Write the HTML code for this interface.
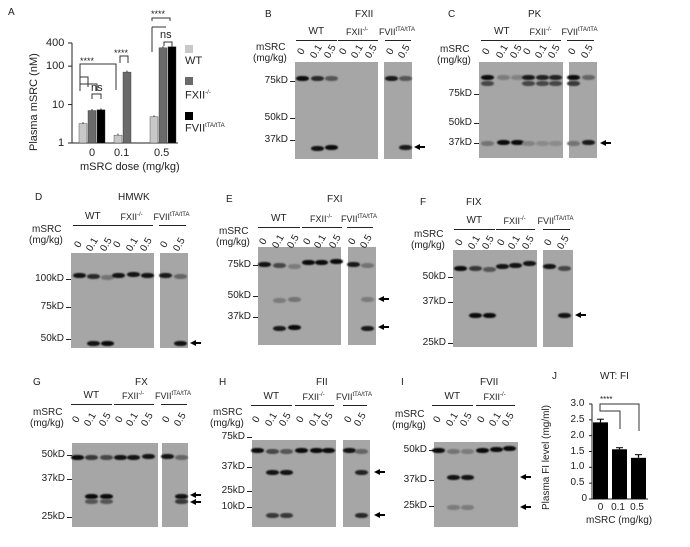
<!DOCTYPE html>
<html><head><meta charset="utf-8">
<style>
body{margin:0;background:#fff;}
#root{position:relative;width:690px;height:547px;overflow:hidden;font-family:"Liberation Sans",Arial,sans-serif;color:#222;}
.t{position:absolute;white-space:nowrap;font-size:10px;line-height:1;}
.gel{position:absolute;background:#a6a6a6;}
.band{position:absolute;border-radius:45%;filter:blur(0.7px);}
.ln{position:absolute;background:#222;}
.arr{position:absolute;width:11px;height:7px;}
.arr .hd{position:absolute;left:0;top:0;width:0;height:0;border-top:3.5px solid transparent;border-bottom:3.5px solid transparent;border-right:6px solid #000;}
.arr .st{position:absolute;left:5px;top:2.5px;width:6px;height:2px;background:#000;}
sup{font-size:6px;}
</style></head>
<body><div id="root">
<svg id="svgA" width="690" height="547" style="position:absolute;left:0;top:0"></svg>
</div>
<script>
// ---------- Panel A data ----------
const aDoses = ["0","0.1","0.5"];
const aWT = [3.2, 1.6, 4.8];
const aFXII = [7.0, 70, 300];
const aFVII = [7.3, null, 320];
const aTicks = [1, 10, 100, 400];
// ---------- Panel J data ----------
const jDoses = ["0","0.1","0.5"];
const jValues = [2.42, 1.57, 1.30];
const jErr = [0.1, 0.05, 0.1];
const jTicks = ["0","0.5","1.0","1.5","2.0","2.5","3.0"];

const root=document.getElementById('root');
const svg=document.getElementById('svgA');
const NS="http://www.w3.org/2000/svg";
function T(x,y,html,size,name,rot){const d=document.createElement('div');d.className='t';d.style.left=x+'px';d.style.top=y+'px';if(size)d.style.fontSize=size+'px';d.innerHTML=html;if(rot){d.style.transform='rotate('+rot+'deg)';d.style.transformOrigin='left bottom';}


root.appendChild(d);return d;}
function S(tag,attrs,name){const e=document.createElementNS(NS,tag);for(const k in attrs)e.setAttribute(k,attrs[k]);


svg.appendChild(e);return e;}

// ---------- Panel A ----------
(function(){
 const x0=72,yTop=43,yBot=143,maxLog=Math.log10(400);
 const yS=v=>yBot-(Math.log10(v)/maxLog)*(yBot-yTop);
 const groupX=[92,123,163];
 T(8,8,"A",10,"panel-a-label");
 S('line',{x1:x0,y1:yTop,x2:x0,y2:yBot,stroke:'#222','stroke-width':1},'y-axis');
 S('line',{x1:x0,y1:yBot,x2:178,y2:yBot,stroke:'#222','stroke-width':1},'x-axis');
 aTicks.forEach(v=>{const y=yS(v);S('line',{x1:x0-4,y1:y,x2:x0,y2:y,stroke:'#222'},'y-tick');T(x0-8-String(v).length*6,y-5,String(v),11,'y-tick-label');});
 const series=[[aWT,'#c8c8c8','wt'],[aFXII,'#6a6a6a','fxii'],[aFVII,'#000','fvii']];
 aDoses.forEach((d,i)=>{
  series.forEach((s,j)=>{const v=s[0][i];if(v==null)return;
   let bx=groupX[i]-13+j*9; if(i==1) bx=groupX[i]-9+j*9;
   const y=yS(v);
   S('rect',{x:bx,y:y,width:8,height:yBot-y,fill:s[1],stroke:'#333','stroke-width':0.4},'bar-'+s[2]+'-'+d);
   S('line',{x1:bx+4,y1:y-1.5,x2:bx+4,y2:y,stroke:'#333'},'error-bar');
  });
  T(groupX[i]-d.length*3,148,d,11,'x-tick-label');
 });
 T(80,162,"mSRC dose (mg/kg)",11,"x-axis-title");
 T(40,140,"Plasma mSRC (nM)",11,"y-axis-title",-90);
 const br=(x1,x2,y,h,name)=>S('path',{d:`M${x1},${y+h} V${y} H${x2} V${y+h}`,fill:'none',stroke:'#333','stroke-width':1},name);
 br(80,116,64,26,'bracket');br(80,88,77,10,'bracket');br(80,97,84,7,'bracket');br(92,101,94,5,'bracket');
 br(120,128,56,7,'bracket');br(152,170,18,3,'bracket');br(152,152,27,25,'bracket');S('line',{x1:152,y1:27,x2:166,y2:27,stroke:'#333'},'bracket');
 br(164,172,42,4,'bracket');
 T(80,57,"****",9,"sig-label");T(114,49,"****",9,"sig-label");T(151,10,"****",9,"sig-label");
 T(91,83,"ns",11,"sig-label");T(160,30,"ns",11,"sig-label");
 const leg=[['#c8c8c8','WT',45,56],['#6a6a6a','FXII<sup>-/-</sup>',77,90],['#000','FVII<sup>tTA/tTA</sup>',112,123]];
 leg.forEach(l=>{S('rect',{x:185,y:l[2],width:8,height:8,fill:l[0]},'legend-swatch');T(185,l[3],l[1],11,'legend-entry');});
})();

// ---------- Panel J ----------
(function(){
 const x0=592,yTop=404,yBot=499,max=3.0;
 const yS=v=>yBot-v/max*(yBot-yTop);
 T(552,372,"J",10,"panel-j-label");T(600,372,"WT: FI",10,"chart-title");
 S('line',{x1:x0,y1:yTop,x2:x0,y2:yBot,stroke:'#222'},'y-axis');
 S('line',{x1:x0,y1:yBot,x2:648,y2:yBot,stroke:'#222'},'x-axis');
 jTicks.forEach(t=>{const y=yS(parseFloat(t));S('line',{x1:x0-3,y1:y,x2:x0,y2:y,stroke:'#222'},'y-tick');T(x0-5-t.length*5.5,y-5,t,10,'y-tick-label');});
 const bx=[593,612,631];
 jDoses.forEach((d,i)=>{const y=yS(jValues[i]);
  S('rect',{x:bx[i],y:y,width:15,height:yBot-y,fill:'#000'},'bar-'+d);
  S('line',{x1:bx[i]+7.5,y1:yS(jValues[i]+jErr[i]),x2:bx[i]+7.5,y2:y,stroke:'#000','stroke-width':1.2},'error-bar');
  S('line',{x1:bx[i]+4,y1:yS(jValues[i]+jErr[i]),x2:bx[i]+11,y2:yS(jValues[i]+jErr[i]),stroke:'#000'},'error-cap');
  T(bx[i]+7.5-d.length*2.8,503,d,10,'x-tick-label');});
 S('path',{d:'M600,410 V404 H639 V431',fill:'none',stroke:'#333'},'bracket');
 S('path',{d:'M600,410 V411 H620 V429',fill:'none',stroke:'#333'},'bracket');
 T(600,396,"****",8,"sig-label");
 T(552,500,"Plasma FI level (mg/ml)",10,"y-axis-title",-90);
 T(586,516,"mSRC (mg/kg)",10,"x-axis-title");
})();

// ---------- Blots ----------
const blots=[
 {id:'b',L:'B',Lx:265,title:'FXII',tx:355,ty:10,ly:40,lab:52,ms:48,top:62,bot:159,g1:[295,378],g2:[384,412],lanes:[302,317,331,344,358,372,391,405],
  ticks:[['75kD',81],['50kD',118],['37kD',140]],
  bands:[[0,78,1],[1,78,.8],[2,78,.5],[1,148,.95],[2,147,1],[6,78,.9],[7,78,.5],[7,147,.9]],arrows:[147],arrX:414},
 {id:'c',L:'C',Lx:448,title:'PK',tx:528,ty:10,ly:40,lab:52,ms:50,top:62,bot:158,g1:[479,563],g2:[569,597],lanes:[487,503,517,528,542,555,573,588],
  ticks:[['75kD',94],['50kD',123],['37kD',143]],
  bands:[[0,77,1],[0,83,.6],[1,77,.25],[2,77,.2],[3,77,.9],[3,83,.6],[4,77,.85],[4,83,.6],[5,77,.85],[5,83,.6],[6,77,1],[6,83,.7],[7,77,.4],
   [0,143,.3],[1,142,1],[2,142,1],[3,143,.2],[4,143,.15],[5,143,.15],[6,143,.3],[7,142,.9]],arrows:[143],arrX:600},
 {id:'d',L:'D',Lx:35,title:'HMWK',tx:118,ty:193,ly:225,lab:245,ms:230,top:253,bot:348,g1:[71,154],g2:[160,188],lanes:[79,93,107,118,133,147,165,180],
  ticks:[['100kD',279],['75kD',307],['50kD',339]],
  bands:[[0,275,.95],[1,276,.8],[2,277,.3],[3,275,.95],[4,274,.95],[5,275,.95],[6,275,.9],[7,276,.4],[1,343,.95],[2,343,1],[7,343,.95]],arrows:[343],arrX:190},
 {id:'e',L:'E',Lx:226,title:'FXI',tx:327,ty:195,ly:227,lab:242,ms:232,top:247,bot:345,g1:[258,341],g2:[348,376],lanes:[264,279,294,308,321,336,353,367],
  ticks:[['75kD',265],['50kD',296],['37kD',317]],
  bands:[[0,264,.95],[1,265,.6],[2,266,.25],[3,262,1],[4,262,1],[5,261,1],[6,264,.9],[7,265,.3],[1,300,.25],[2,299,.3],[7,299,.25],[1,328,.9],[2,327,1],[7,328,.9]],arrows:[299,327],arrX:378},
 {id:'f',L:'F',Lx:420,title:'FIX',tx:466,ty:198,ly:229,lab:243,ms:235,top:250,bot:347,g1:[453,537],g2:[543,573],lanes:[460,475,489,502,515,529,549,564],
  ticks:[['50kD',277],['37kD',302],['25kD',343]],
  bands:[[0,268,1],[1,268,.7],[2,269,.5],[3,266,.95],[4,265,.95],[5,263,.95],[6,266,.95],[7,268,.6],[1,315,1],[2,315,1],[7,315,.95]],arrows:[315],arrX:575},
 {id:'g',L:'G',Lx:33,title:'FX',tx:135,ty:378,ly:404,lab:420,ms:413,top:443,bot:527,g1:[72,158],g2:[162,188],lanes:[77,91,106,120,133,148,167,181],
  ticks:[['50kD',455],['37kD',479],['25kD',517]],
  bands:[[0,457,1],[1,457,.7],[2,457,.6],[3,457,.95],[4,457,.95],[5,456,.95],[6,456,.95],[7,457,.4],[1,496,1],[2,496,1],[1,501,.5],[2,501,.5],[7,496,.95],[7,501,.7]],arrows:[495,502],arrX:190},
 {id:'h',L:'H',Lx:219,title:'FII',tx:316,ty:378,ly:405,lab:420,ms:413,top:440,bot:527,g1:[252,336],g2:[343,370],lanes:[257,272,286,301,316,328,349,361],
  ticks:[['75kD',437],['37kD',467],['25kD',491],['10kD',507]],
  bands:[[0,450,1],[1,451,.6],[2,451,.5],[3,450,1],[4,450,1],[5,450,1],[6,450,.95],[7,451,.4],[1,472,.95],[2,472,.95],[7,472,.85],[1,515,.7],[2,515,.7],[7,515,.8]],arrows:[472,515],arrX:374},
 {id:'i',L:'I',Lx:401,title:'FVII',tx:480,ty:378,ly:405,lab:420,ms:415,top:442,bot:527,g1:[434,518],g2:null,lanes:[438,453,467,482,496,509],
  ticks:[['50kD',450],['37kD',480],['25kD',506]],
  bands:[[0,450,1],[1,451,.3],[2,451,.25],[3,450,1],[4,449,1],[5,448,1],[1,477,.95],[2,477,.95],[1,507,.25],[2,507,.25]],arrows:[477,507],arrX:520}
];
const groupsFull=['WT','FXII<sup>-/-</sup>','FVII<sup>tTA/tTA</sup>'];
const laneLabs=['0','0.1','0.5','0','0.1','0.5','0','0.5'];
blots.forEach(b=>{
 const P='panel-'+b.id;
 T(b.Lx,b.ty,b.L,10,P+'-label');
 T(b.tx,b.ty,b.title,10,P+'-title');
 const addGel=(g,n)=>{const d=document.createElement('div');d.className='gel';d.style.left=g[0]+'px';d.style.top=b.top+'px';d.style.width=(g[1]-g[0])+'px';d.style.height=(b.bot-b.top)+'px';
  
  
  root.appendChild(d);};
 addGel(b.g1,P+'-gel');if(b.g2)addGel(b.g2,P+'-gel-2');
 const groups=[[b.lanes.slice(0,3),groupsFull[0]],[b.lanes.slice(3,6),groupsFull[1]]];
 if(b.lanes.length>6)groups.push([b.lanes.slice(6),groupsFull[2]]);
 groups.forEach((g,k)=>{const x1=g[0][0]-6,x2=g[0][g[0].length-1]+6;
  const l=document.createElement('div');l.className='ln';l.style.left=x1+'px';l.style.top=b.ly+'px';l.style.width=(x2-x1)+'px';l.style.height='1px';
  
  
  root.appendChild(l);
  const w=k==0?16:(k==1?24:38);
  T((x1+x2)/2-w/2,b.ly-13,g[1],k==0?10:9,'group-label');});
 b.lanes.forEach((x,i)=>{const d=T(x-8,b.lab-5,laneLabs[i],10,'lane-label');d.style.width='16px';d.style.textAlign='center';d.style.transform='rotate(-60deg)';d.style.transformOrigin='center';});
 T(b.g1[0]-39,b.ms-5,'mSRC',10,'msrc-label');T(b.g1[0]-42,b.ms+6,'(mg/kg)',10,'unit-label');
 b.ticks.forEach(t=>{const d=T(b.g1[0]-57,t[1]-5,t[0],10,'mw-label');d.style.width='50px';d.style.textAlign='right';
  const l=document.createElement('div');l.className='ln';l.style.left=(b.g1[0]-5)+'px';l.style.top=t[1]+'px';l.style.width='5px';l.style.height='1px';
  
  
  root.appendChild(l);});
 b.bands.forEach(bd=>{const d=document.createElement('div');d.className='band';
  const x=b.lanes[bd[0]];
  d.style.left=(x-6.5)+'px';d.style.top=(bd[1]-2.5)+'px';d.style.width='13px';d.style.height='5px';
  const c=Math.round(160-150*bd[2]);d.style.background='rgb('+c+','+c+','+c+')';
  
  
  root.appendChild(d);});
 b.arrows.forEach(y=>{const a=document.createElement('div');a.className='arr';a.style.left=b.arrX+'px';a.style.top=(y-3.5)+'px';a.innerHTML='<div class="hd"></div><div class="st"></div>';
  
  
  root.appendChild(a);});
});
</script>
</body></html>
